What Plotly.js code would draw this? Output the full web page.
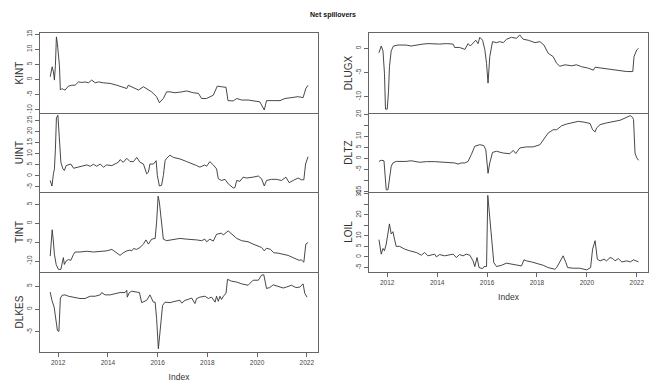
<!DOCTYPE html>
<html><head><meta charset="utf-8">
<script src="https://cdn.plot.ly/plotly-3.0.1.min.js"></script>
<style>html,body{margin:0;padding:0;background:#fff}#chart{width:660px;height:390px}</style>
</head><body><div id="chart"></div>
<script>
// ---------- data ----------
const yearTicks = [2012, 2014, 2016, 2018, 2020, 2022];
const yearTickText = ['2012', '2014', '2016', '2018', '2020', '2022'];

const kintYear = [2011.68,2011.72,2011.76,2011.81,2011.85,2011.89,2011.93,2011.97,2012.01,2012.05,2012.09,2012.15,2012.21,2012.28,2012.41,2012.55,2012.68,2012.82,2012.95,2013.08,2013.22,2013.35,2013.49,2013.62,2013.82,2014.09,2014.36,2014.56,2014.76,2014.82,2015.03,2015.23,2015.43,2015.56,2015.76,2015.96,2016.07,2016.23,2016.36,2016.50,2016.70,2016.97,2017.17,2017.44,2017.64,2017.77,2017.97,2018.24,2018.40,2018.57,2018.75,2018.83,2019.04,2019.18,2019.38,2019.64,2019.84,2020.11,2020.29,2020.38,2020.65,2020.92,2021.12,2021.32,2021.45,2021.65,2021.85,2021.96,2022.05];
const kintValue = [0.9,3.1,4.2,2.5,-0.2,4.7,14.1,11.9,9.1,4.7,-3.5,-3.0,-3.3,-3.5,-2.2,-1.9,-1.9,-0.8,-1.0,-0.8,-1.1,-0.2,-1.1,-0.8,-1.1,-1.3,-1.9,-2.4,-3.0,-1.9,-2.6,-3.5,-2.4,-3.0,-4.1,-5.7,-7.7,-6.3,-4.1,-4.1,-4.4,-4.1,-3.8,-4.4,-4.6,-6.3,-6.3,-5.2,-2.2,-2.4,-2.6,-7.0,-7.1,-6.3,-6.8,-6.8,-7.0,-7.4,-10.1,-7.0,-7.0,-7.0,-6.3,-6.0,-6.0,-5.7,-6.0,-3.0,-1.9];
const kintTicks = [-10, -5, 0, 5, 10, 15];
const kintTickText = ['-10', '-5', '0', '5', '10', '15'];

const uintYear = [2011.68,2011.75,2011.81,2011.85,2011.89,2011.93,2011.99,2012.03,2012.07,2012.11,2012.19,2012.25,2012.32,2012.41,2012.51,2012.62,2012.75,2012.88,2013.02,2013.15,2013.29,2013.42,2013.55,2013.69,2013.82,2013.95,2014.16,2014.29,2014.42,2014.49,2014.62,2014.76,2014.89,2015.03,2015.16,2015.29,2015.43,2015.56,2015.63,2015.69,2015.83,2015.94,2015.99,2016.07,2016.16,2016.23,2016.30,2016.36,2016.50,2016.63,2016.90,2017.17,2017.37,2017.57,2017.70,2017.90,2017.97,2018.10,2018.24,2018.37,2018.44,2018.57,2018.71,2018.84,2019.04,2019.11,2019.18,2019.31,2019.44,2019.58,2019.84,2020.05,2020.18,2020.29,2020.38,2020.58,2020.78,2020.98,2021.16,2021.29,2021.45,2021.65,2021.78,2021.88,2021.95,2022.05];
const uintValue = [-2.1,-4.6,0.9,3.1,12.0,26.1,27.3,20.9,10.5,6.1,3.1,2.4,4.6,4.9,5.3,3.4,3.7,4.3,4.3,4.9,4.3,5.2,4.3,5.3,3.9,4.9,4.6,5.3,6.1,7.3,6.1,7.9,6.4,6.4,8.3,6.1,5.3,0.9,1.6,5.3,5.3,6.8,0.1,-4.6,-4.3,0.1,6.8,7.9,9.3,8.3,7.6,6.4,5.6,4.6,3.9,4.9,4.3,6.4,4.9,3.1,-1.3,-2.1,-1.6,-3.6,-5.5,-5.3,-2.1,-2.5,-0.6,-1.0,-0.6,-0.1,-1.3,-4.6,-2.1,-1.6,-1.6,-2.1,-0.6,-3.1,-2.1,-1.0,-1.8,-1.8,5.3,8.6];
const uintTicks = [-5, 0, 5, 10, 15, 20, 25];
const uintTickText = ['-5', '0', '5', '10', '15', '20', '25'];

const tintYear = [2011.68,2011.72,2011.76,2011.80,2011.85,2011.92,2012.01,2012.11,2012.17,2012.21,2012.25,2012.32,2012.41,2012.51,2012.62,2012.68,2012.88,2013.15,2013.42,2013.69,2013.95,2014.16,2014.29,2014.49,2014.62,2014.76,2014.89,2014.96,2015.03,2015.16,2015.29,2015.43,2015.53,2015.63,2015.76,2015.90,2015.96,2016.02,2016.07,2016.14,2016.23,2016.36,2016.50,2016.63,2016.90,2017.17,2017.37,2017.57,2017.77,2017.90,2017.97,2018.10,2018.24,2018.37,2018.57,2018.64,2018.84,2019.04,2019.18,2019.38,2019.64,2019.84,2020.05,2020.18,2020.29,2020.38,2020.54,2020.67,2020.84,2021.05,2021.25,2021.45,2021.69,2021.78,2021.88,2021.96,2022.05];
const tintValue = [-8.7,-5.1,-1.7,-4.2,-8.2,-10.9,-12.2,-12.2,-10.4,-9.1,-10.9,-10.0,-9.6,-9.8,-8.2,-7.6,-7.6,-7.4,-7.6,-7.4,-7.3,-6.9,-7.5,-8.5,-7.8,-7.3,-7.1,-7.3,-6.7,-6.9,-6.4,-5.5,-4.4,-5.5,-4.2,-4.0,0.3,7.2,5.6,0.3,-4.2,-4.6,-4.4,-4.2,-4.0,-4.2,-4.2,-4.4,-4.6,-4.2,-4.9,-4.2,-4.7,-2.9,-2.6,-3.1,-2.0,-3.3,-4.0,-4.6,-4.9,-5.5,-6.0,-6.4,-7.3,-6.6,-6.9,-7.8,-7.9,-8.2,-8.5,-9.1,-9.8,-9.7,-10.3,-5.5,-5.1];
const tintTicks = [-10, -5, 0, 5];
const tintTickText = ['-10', '-5', '0', '5'];

const dlkesYear = [2011.68,2011.75,2011.84,2011.92,2011.97,2012.03,2012.09,2012.16,2012.28,2012.41,2012.62,2012.88,2013.08,2013.29,2013.49,2013.69,2013.75,2013.89,2014.09,2014.29,2014.49,2014.69,2014.76,2014.78,2014.86,2014.96,2015.16,2015.27,2015.36,2015.56,2015.69,2015.83,2015.90,2015.96,2016.03,2016.07,2016.14,2016.20,2016.30,2016.50,2016.70,2016.90,2016.97,2017.10,2017.23,2017.37,2017.50,2017.57,2017.70,2017.90,2018.04,2018.17,2018.31,2018.37,2018.44,2018.51,2018.57,2018.67,2018.75,2018.81,2018.97,2019.18,2019.38,2019.64,2019.84,2020.05,2020.18,2020.27,2020.38,2020.51,2020.65,2020.84,2021.05,2021.18,2021.38,2021.56,2021.72,2021.85,2021.92,2022.01];
const dlkesValue = [3.7,1.9,0.4,-3.2,-4.7,-4.9,2.4,3.0,3.1,2.8,2.6,2.3,2.3,2.8,2.8,3.1,3.6,3.1,3.1,3.4,3.6,3.6,4.1,2.6,3.6,3.9,3.7,3.6,1.4,1.9,3.1,1.5,1.5,-2.1,-8.7,-6.5,-2.1,0.8,1.5,1.4,1.7,1.9,1.3,1.9,2.1,2.4,1.2,2.3,2.6,2.8,2.3,2.6,1.5,2.8,1.7,2.8,2.1,3.0,3.4,6.5,6.1,5.9,5.5,5.2,6.3,6.3,7.4,7.5,4.5,4.7,5.3,5.0,4.6,4.8,5.2,4.7,4.8,5.5,3.4,2.6];
const dlkesTicks = [-5, 0, 5];
const dlkesTickText = ['-5', '0', '5'];

const dlugxYear = [2011.67,2011.76,2011.83,2011.89,2011.93,2012.00,2012.05,2012.09,2012.16,2012.25,2012.43,2012.76,2012.96,2013.16,2013.43,2013.63,2013.83,2014.10,2014.37,2014.64,2014.70,2014.90,2015.11,2015.24,2015.33,2015.44,2015.55,2015.64,2015.71,2015.82,2015.91,2015.98,2016.04,2016.11,2016.22,2016.38,2016.51,2016.65,2016.78,2016.98,2017.18,2017.31,2017.45,2017.65,2017.92,2018.12,2018.28,2018.45,2018.65,2018.79,2018.92,2019.12,2019.39,2019.59,2019.79,2020.06,2020.26,2020.33,2020.59,2020.79,2021.06,2021.33,2021.60,2021.84,2021.89,2022.00,2022.07];
const dlugxValue = [-0.9,0.5,-0.5,-5.2,-12.6,-12.6,-9.0,-3.8,-0.5,0.5,0.7,0.7,0.5,0.7,0.9,1.0,0.9,0.9,1.0,0.9,0.2,0.2,-0.2,1.0,0.5,1.0,1.7,1.0,2.3,1.7,-0.2,-3.1,-7.2,-1.7,1.4,1.2,1.4,1.2,1.9,2.3,2.1,2.8,1.9,1.7,1.2,1.4,0.7,-1.0,-1.7,-3.1,-3.7,-3.4,-3.6,-3.4,-3.8,-4.1,-4.5,-3.9,-4.1,-4.3,-4.5,-4.6,-4.8,-4.8,-1.7,-0.3,0.0];
const dlugxTicks = [-10, -5, 0];
const dlugxTickText = ['-10', '-5', '0'];

const dltzYear = [2011.67,2011.76,2011.87,2011.92,2011.96,2012.03,2012.09,2012.16,2012.23,2012.29,2012.36,2012.76,2012.96,2013.30,2013.57,2013.90,2014.37,2014.70,2014.84,2014.97,2015.11,2015.24,2015.37,2015.51,2015.71,2015.87,2015.95,2016.04,2016.11,2016.22,2016.38,2016.65,2016.91,2017.05,2017.15,2017.31,2017.58,2017.85,2018.12,2018.25,2018.45,2018.65,2018.79,2018.85,2018.99,2019.19,2019.46,2019.66,2019.92,2020.13,2020.23,2020.33,2020.39,2020.53,2020.79,2021.06,2021.33,2021.53,2021.67,2021.74,2021.84,2021.87,2021.93,2022.00,2022.07];
const dltzValue = [-1.4,-0.9,-1.1,-6.7,-14.3,-14.3,-8.9,-3.6,-2.1,-1.8,-1.4,-1.4,-1.1,-1.8,-1.5,-1.5,-1.8,-2.1,-2.6,-2.1,-2.1,-1.4,1.7,5.5,6.2,5.8,3.9,-6.8,-2.1,2.7,3.2,2.4,2.1,3.6,2.2,4.7,5.2,5.2,6.2,8.5,11.5,13.0,13.0,13.5,14.8,15.6,16.1,16.8,16.4,15.8,13.0,12.0,13.8,15.3,16.1,16.8,17.3,18.3,18.8,19.4,18.5,17.6,2.4,0.2,-0.9];
const dltzTicks = [-15, -10, -5, 0, 5, 10, 15, 20];
const dltzTickText = ['-15', '', '-5', '0', '5', '10', '', '20'];

const loilYear = [2011.67,2011.76,2011.83,2011.89,2011.96,2012.03,2012.09,2012.16,2012.23,2012.29,2012.36,2012.50,2012.70,2012.90,2013.16,2013.37,2013.50,2013.63,2013.77,2013.90,2013.97,2014.10,2014.30,2014.50,2014.64,2014.77,2014.90,2015.04,2015.17,2015.31,2015.44,2015.51,2015.60,2015.68,2015.82,2015.88,2015.98,2016.03,2016.11,2016.18,2016.27,2016.38,2016.58,2016.78,2016.98,2017.18,2017.38,2017.48,2017.58,2017.78,2017.98,2018.25,2018.45,2018.72,2018.79,2018.92,2019.05,2019.16,2019.23,2019.46,2019.72,2019.99,2020.15,2020.23,2020.33,2020.42,2020.53,2020.69,2020.79,2020.93,2021.04,2021.13,2021.26,2021.40,2021.60,2021.74,2021.87,2022.07];
const loilValue = [8.2,1.3,4.0,2.9,6.1,12.5,15.7,10.9,12.0,8.5,5.0,5.0,3.7,2.9,2.1,0.8,2.1,0.5,0.8,1.3,0.0,1.1,0.5,0.8,1.3,-0.3,1.1,0.5,1.3,0.8,-1.9,-4.6,-0.3,-5.1,-5.6,-4.6,-4.6,29.3,19.7,8.5,-2.7,-4.6,-4.0,-3.0,-3.5,-4.0,-4.3,-1.4,-1.9,-2.4,-3.0,-4.0,-5.1,-5.9,-5.1,-1.9,0.5,-2.7,-5.1,-5.4,-5.4,-6.2,-5.1,3.7,7.7,-1.1,-1.9,-1.1,-1.9,-0.3,-0.8,-1.9,-0.8,-2.4,-1.9,-2.4,-1.4,-2.4];
const loilTicks = [-5, 0, 5, 10, 15, 20, 25, 30];
const loilTickText = ['-5', '0', '5', '10', '', '20', '', '30'];

// ---------- panels ----------
const panels = [
  {name: 'KINT',  x: kintYear,  y: kintValue,  col: 0, row: 0, range: [-11.1, 15.4], tv: kintTicks,  tt: kintTickText},
  {name: 'UINT',  x: uintYear,  y: uintValue,  col: 0, row: 1, range: [-7.3, 28.3],  tv: uintTicks,  tt: uintTickText},
  {name: 'TINT',  x: tintYear,  y: tintValue,  col: 0, row: 2, range: [-12.9, 8.3],  tv: tintTicks,  tt: tintTickText},
  {name: 'DLKES', x: dlkesYear, y: dlkesValue, col: 0, row: 3, range: [-9.4, 8.1],   tv: dlkesTicks, tt: dlkesTickText, bottom: true},
  {name: 'DLUGX', x: dlugxYear, y: dlugxValue, col: 1, row: 0, range: [-13.4, 3.2],  tv: dlugxTicks, tt: dlugxTickText},
  {name: 'DLTZ',  x: dltzYear,  y: dltzValue,  col: 1, row: 1, range: [-15.3, 20.6], tv: dltzTicks,  tt: dltzTickText},
  {name: 'LOIL',  x: loilYear,  y: loilValue,  col: 1, row: 2, range: [-7.2, 30.9],  tv: loilTicks,  tt: loilTickText, bottom: true}
];

const W = 660, H = 390;
const colX = [[40 / W, 318 / W], [369 / W, 648 / W]];
const rowTop = [33, 113, 192, 272];
const rowBot = [113, 192, 272, 352];
const xRange = [2011.27, 2022.45];
const FONT = 'Liberation Sans, Arial, Helvetica, sans-serif';
const frame = '#666666';

const traces = [];
const layout = {
  width: W, height: H,
  margin: {l: 0, r: 0, t: 0, b: 0},
  paper_bgcolor: '#fff', plot_bgcolor: '#fff',
  showlegend: false,
  font: {family: FONT, color: '#333'},
  title: {
    text: '<b>Net spillovers</b>',
    font: {size: 7, family: FONT, color: '#111'},
    x: 333 / W, xref: 'paper', xanchor: 'center',
    y: 1 - 15 / H, yref: 'paper', yanchor: 'middle'
  }
};

panels.forEach((p, i) => {
  const k = i + 1;
  const sx = k === 1 ? '' : String(k);
  traces.push({
    type: 'scatter', mode: 'lines',
    x: p.x, y: p.y,
    xaxis: 'x' + sx, yaxis: 'y' + sx,
    line: {color: '#333333', width: 0.9},
    hoverinfo: 'skip'
  });
  layout['xaxis' + sx] = {
    domain: colX[p.col], anchor: 'y' + sx, range: xRange,
    showgrid: false, zeroline: false,
    showline: true, mirror: p.row === 0, linecolor: frame, linewidth: 1,
    tickmode: 'array', tickvals: yearTicks, ticktext: yearTickText,
    ticks: p.bottom ? 'outside' : '', ticklen: 4, tickcolor: frame,
    showticklabels: !!p.bottom,
    tickfont: {size: 6.5, color: '#444', family: FONT},
    title: p.bottom ? {text: 'Index', font: {size: 8.5, color: '#333', family: FONT}, standoff: 9} : {text: ''}
  };
  layout['yaxis' + sx] = {
    domain: [1 - rowBot[p.row] / H, 1 - rowTop[p.row] / H], anchor: 'x' + sx, range: p.range,
    showgrid: false, zeroline: false,
    showline: true, mirror: true, linecolor: frame, linewidth: 1,
    tickmode: 'array', tickvals: p.tv, ticktext: p.tt,
    ticks: 'outside', ticklen: 4, tickcolor: frame,
    tickangle: -90,
    tickfont: {size: 6.5, color: '#444', family: FONT},
    title: {text: p.name, font: {size: 10, color: '#333', family: FONT}, standoff: 0}
  };
});

Plotly.newPlot('chart', traces, layout, {staticPlot: true, displayModeBar: false});
</script>
</body></html>
